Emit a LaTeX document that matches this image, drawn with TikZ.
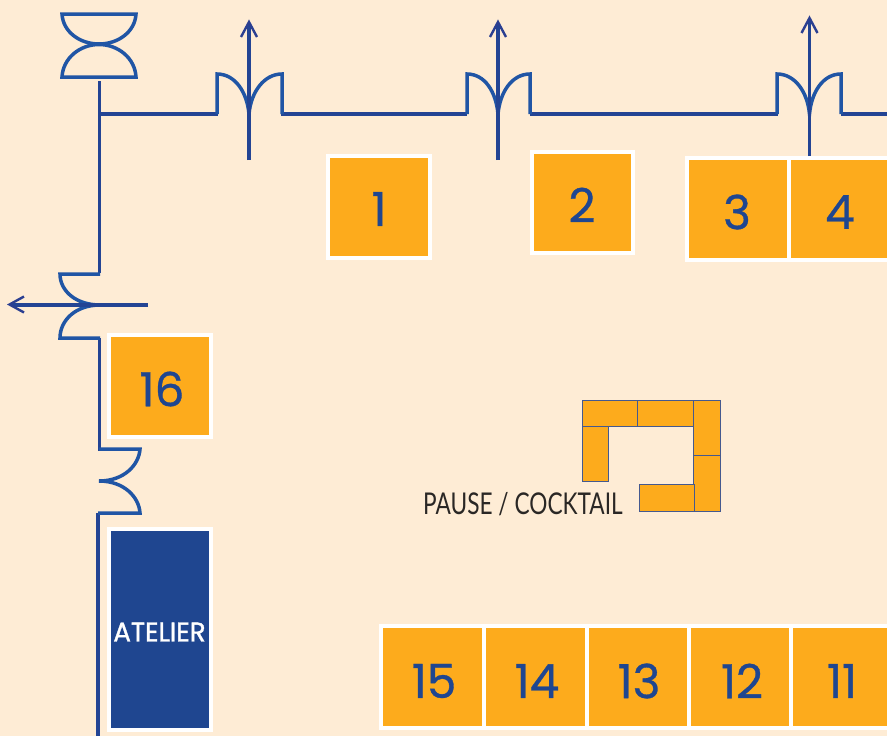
\documentclass[tikz,border=0pt]{standalone}
\usepackage{fontspec}
\setmainfont{Poppins}[FakeBold=0.7]
\newfontfamily\capfont{Lato}
\newfontfamily\lblfont{Poppins}[FakeBold=1.2]
\definecolor{bgc}{HTML}{FEECD5}
\definecolor{boothc}{HTML}{FDAB1C}
\definecolor{navyc}{HTML}{1F4690}
\definecolor{doorc}{HTML}{2055A5}
\definecolor{wallc}{HTML}{234494}
\definecolor{arrowc}{HTML}{2B3F91}
\definecolor{inkc}{HTML}{2A2725}
\definecolor{sofaline}{HTML}{44598F}
\tikzset{
  x=1pt,y=-1pt,
  booth/.style={fill=boothc,draw=white,line width=4pt},
  numlabel/.style={text=navyc,font=\fontsize{47}{47}\selectfont,inner sep=0pt},
  sofa/.style={fill=boothc,draw=sofaline,line width=1pt},
  wall/.style={draw=wallc,line width=3.2pt},
  door/.style={draw=doorc,line width=3.5pt,line join=miter},
  exitarrow/.style={draw=wallc,line width=3.2pt},
  exithead/.style={draw=arrowc,line width=2.4pt,line join=miter},
}
\newcommand{\updoor}[3]{% left x, apex x, right x
  \draw[door] (#1,114) -- (#1,74) .. controls (#1+18,74) and (#2-2,92) .. (#2,114)
     .. controls (#2+2,92) and (#3-18,74) .. (#3,74) -- (#3,114);}
\newcommand{\exitup}[3]{% x, bottom y, tip y
  \draw[exitarrow] (#1,#2) -- (#1,#3+2);
  \draw[exithead] (#1-8,#3+16) -- (#1,#3+1) -- (#1+8,#3+16);}
\begin{document}
\begin{tikzpicture}
\useasboundingbox (0,0) rectangle (887,736);
\fill[bgc] (0,0) rectangle (887,736);
% booths
\foreach \name/\xa/\ya/\xb/\yb/\tx/\ty in {
  1/328/156/430/258/379/209,
  2/532/152/633/253/582/205,
  3/687/158/789/260/737/212,
  4/789/158/891/260/840/212,
  16/108.5/335/211/437/162/389,
  15/381/626/484/728/434/681,
  14/484/626/587/728/537/681,
  13/587/626/689/728/639/681,
  12/689/626/791/728/742/681,
  11/791/626/893/728/842/681}{
  \draw[booth] (\xa,\ya) rectangle (\xb,\yb);
  \node[numlabel] (b\name) at (\tx,\ty) {\name};
}
\draw[fill=navyc,draw=white,line width=4pt] (108.5,529) rectangle (211,730);
\node[text=white,inner sep=0pt,font=\lblfont\fontsize{27}{27}\selectfont] (atelier) at (159.5,632) {\scalebox{0.97}[1]{ATELIER}};
% walls
\draw[wall] (99.5,81) -- (99.5,273);
\draw[wall] (99.5,114) -- (218,114);
\draw[wall] (281,114) -- (467,114);
\draw[wall] (530,114) -- (778,114);
\draw[wall] (841,114) -- (887,114);
\draw[wall] (99.5,338) -- (99.5,451);
\draw[wall] (98,513) -- (98,736);
% doors
\updoor{217}{249}{282}
\updoor{467}{498}{530}
\updoor{777}{809.5}{841}
\draw[door] (62,14) -- (136,14) .. controls (135,32) and (118,44) .. (99,44) .. controls (80,44) and (63,32) .. (62,14) -- cycle;
\draw[door] (62,77) -- (136,77) .. controls (135,58) and (118,44.5) .. (99,44.5) .. controls (80,44.5) and (63,58) .. (62,77) -- cycle;
\draw[door] (100,274) -- (60,274) .. controls (60,291) and (76,305) .. (100,305) .. controls (76,305) and (60,320) .. (60,338) -- (100,338);
\draw[door] (99,449) -- (140,449) .. controls (139,465) and (124,481) .. (99,481) .. controls (124,481) and (139,497) .. (140,513) -- (98,513);
% exit arrows
\exitup{249}{160}{21}
\exitup{498}{160}{21}
\exitup{809.5}{156}{17}
\draw[exitarrow] (148,305) -- (11,305);
\draw[exithead] (24,296.5) -- (9.5,304.5) -- (24,312.5);
% sofa
\draw[sofa] (582,400) rectangle (637,426);
\draw[sofa] (637,400) rectangle (693,426);
\draw[sofa] (693.5,400) rectangle (720,455);
\draw[sofa] (693.5,455.5) rectangle (720,511);
\draw[sofa] (582,426) rectangle (608,481);
\draw[sofa] (639,484.5) rectangle (694,511);
\node[anchor=base west,inner sep=0pt,text=inkc,font=\capfont\fontsize{30}{30}\selectfont] (pause) at (423,514) {\scalebox{0.755}[1]{PAUSE / COCKTAIL}};
\end{tikzpicture}
\end{document}
